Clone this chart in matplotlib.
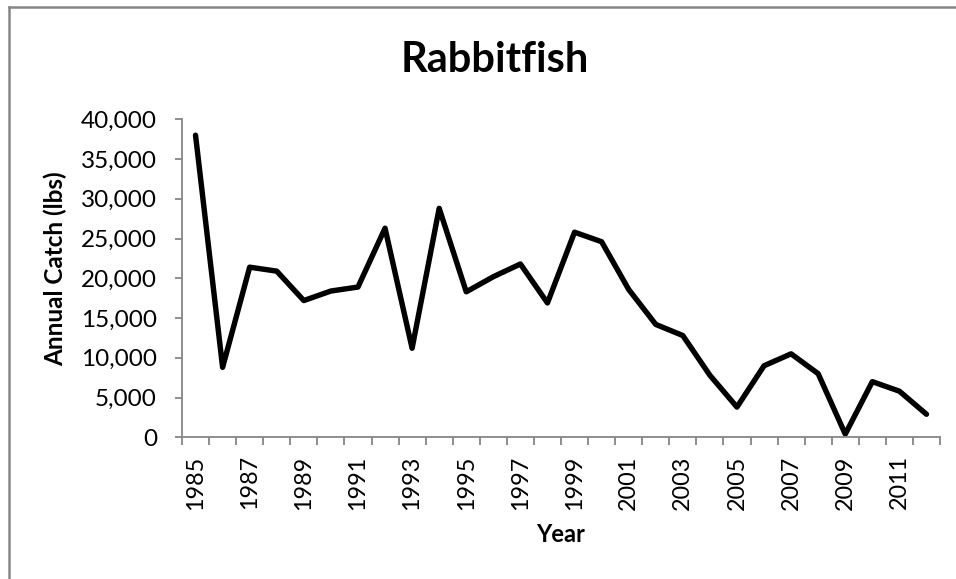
import numpy as np
import matplotlib
matplotlib.use("Agg")
import matplotlib.pyplot as plt
from matplotlib.lines import Line2D
from matplotlib.ticker import FuncFormatter

# Annual rabbitfish catch
years = list(range(1985, 2013))
catch_lbs = [38000, 8800, 21400, 20900, 17200, 18400, 18900, 26300, 11200, 28800,
             18300, 20200, 21800, 16900, 25800, 24600, 18600, 14200, 12800, 7800,
             3800, 9000, 10500, 8000, 400, 7000, 5800, 2900]
y_ticks = [0, 5000, 10000, 15000, 20000, 25000, 30000, 35000, 40000]

GRAY = '#868686'
FONT = 'Lato'

W, H = 956, 579
fig = plt.figure(figsize=(W / 100, H / 100), dpi=100)
ax = fig.add_axes([182 / W, 1 - 437.3 / H, (940 - 182) / W, (437.3 - 119.3) / H])

x = np.arange(len(years))
ax.plot(x, catch_lbs, color='black', lw=3.9, solid_joinstyle='round',
        solid_capstyle='round', clip_on=False)

ax.set_xlim(-0.5, len(years) - 0.5)
ax.set_ylim(0, 40000)

# y axis
ax.set_yticks(y_ticks)
ax.yaxis.set_major_formatter(FuncFormatter(lambda v, p: f'{int(v):,}'))
ax.tick_params(axis='y', direction='out', length=5, width=1.3, color=GRAY,
               labelsize=17.5, pad=13)

# x axis: ticks between categories, labels every other year
ax.set_xticks(np.arange(-0.5, len(years), 1.0))
ax.set_xticklabels([])
ax.set_xticks(x[::2], minor=True)
ax.set_xticklabels([str(y) for y in years[::2]], minor=True, rotation=90)
ax.tick_params(axis='x', which='major', direction='out', length=5.5, width=1.3, color=GRAY)
ax.tick_params(axis='x', which='minor', length=0, labelsize=16.8, pad=13)

for lbl in ax.get_xticklabels(minor=True) + ax.get_yticklabels():
    lbl.set_fontfamily(FONT)

for s in ['top', 'right']:
    ax.spines[s].set_visible(False)
for s in ['left', 'bottom']:
    ax.spines[s].set_color(GRAY)
    ax.spines[s].set_linewidth(1.3)

ax.set_xlabel('Year', fontfamily=FONT, fontweight='bold', fontsize=17)
ax.xaxis.set_label_coords(0.5, (437.3 - 523) / 318)
ax.set_ylabel('Annual Catch (lbs)', fontfamily=FONT, fontweight='bold', fontsize=17.5)
ax.yaxis.set_label_coords((67 - 182) / 758, (437.3 - 269) / 318)

fig.text(495 / W, 1 - 60 / H, 'Rabbitfish', ha='center', va='center',
         fontfamily=FONT, fontweight='bold', fontsize=30)

# chart border (only top and left edges visible in the reference)
fig.add_artist(Line2D([9 / W, 9 / W], [0, 1 - 7 / H], color=GRAY, lw=1.8))
fig.add_artist(Line2D([9 / W, 1], [1 - 7 / H, 1 - 7 / H], color=GRAY, lw=1.8))

fig.savefig('out.png', dpi=100)
